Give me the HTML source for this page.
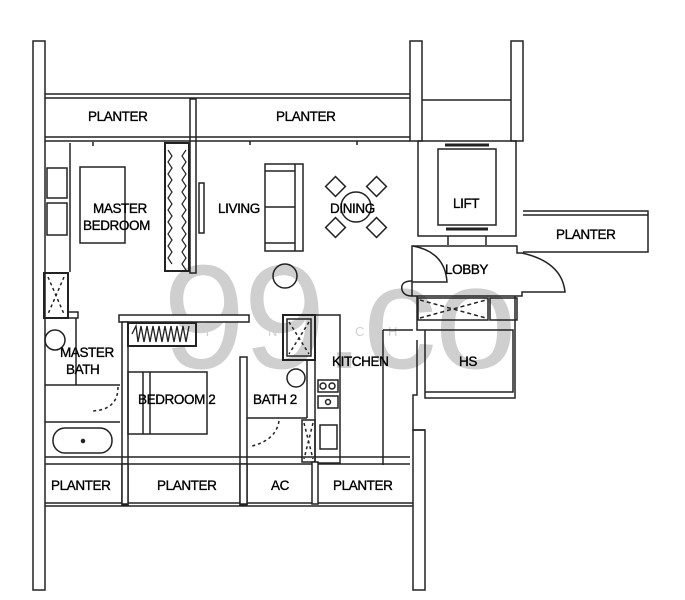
<!DOCTYPE html>
<html><head><meta charset="utf-8"><style>
html,body{margin:0;padding:0;background:#fff;}
svg{display:block;}
text{font-family:"Liberation Sans",sans-serif;font-size:13.5px;fill:#000;stroke:#000;stroke-width:0.35px;letter-spacing:-0.4px;}
</style></head><body>
<svg width="685" height="600" viewBox="0 0 685 600" xmlns="http://www.w3.org/2000/svg">
<!-- watermark -->
<text x="163" y="368" style="font-size:148px;fill:#cfcfcf;stroke:none;letter-spacing:-2px">99.co</text>
<text x="203" y="336" style="font-size:13px;fill:#d0d0d0;stroke:none;letter-spacing:0">Y</text>
<text x="268" y="336" style="font-size:13px;fill:#d0d0d0;stroke:none;letter-spacing:0">N</text>
<text x="355" y="336" style="font-size:13px;fill:#d0d0d0;stroke:none;letter-spacing:0">C</text>
<text x="388" y="336" style="font-size:13px;fill:#d0d0d0;stroke:none;letter-spacing:0">H</text>

<g fill="none" stroke="#222" stroke-width="1.5">
<rect x="33" y="41" width="12" height="549" fill="#fff"/>
<rect x="410" y="41" width="12" height="100" fill="#fff"/>
<rect x="511" y="41" width="12" height="100"/>
<rect x="413" y="430" width="12" height="160" fill="#fff"/>
<line x1="45" y1="94" x2="410" y2="94"/>
<line x1="45" y1="98" x2="410" y2="98"/>
<line x1="45" y1="137" x2="410" y2="137"/>
<line x1="45" y1="141" x2="410" y2="141"/>
<rect x="190" y="99" width="6" height="174"/>
<line x1="93" y1="142" x2="93" y2="146"/><line x1="250" y1="141" x2="250" y2="145"/><line x1="357" y1="141" x2="357" y2="145"/>
<line x1="70" y1="143" x2="70" y2="272"/>
<rect x="47" y="168" width="20" height="30"/><rect x="47" y="203" width="20" height="32"/>
<rect x="80" y="167" width="45" height="76"/>
<rect x="165" y="143" width="24" height="128" stroke-width="2"/>
<path d="M168 150 l4 6 l-4 6 l4 6 l-4 6 l4 6 l-4 6 l4 6 l-4 6 l4 6 l-4 6 l4 6 l-4 6 l4 6 l-4 6 l4 6 l-4 6 l4 6 l-4 6 l4 6 M186 150 l-4 6 l4 6 l-4 6 l4 6 l-4 6 l4 6 l-4 6 l4 6 l-4 6 l4 6 l-4 6 l4 6 l-4 6 l4 6 l-4 6 l4 6 l-4 6 l4 6 l-4 6 l4 6" stroke-width="1.2"/>
<rect x="199" y="183" width="5" height="50"/>
<rect x="265" y="164" width="38" height="87"/>
<line x1="295" y1="164" x2="295" y2="251"/><line x1="265" y1="171" x2="295" y2="171"/><line x1="265" y1="243" x2="295" y2="243"/><line x1="265" y1="207" x2="295" y2="207"/>
<circle cx="356" cy="207" r="15"/>
<g transform="translate(356 207) rotate(45)">
<rect x="-7" y="-36" width="14" height="14"/><rect x="-7" y="22" width="14" height="14"/>
<rect x="-36" y="-7" width="14" height="14"/><rect x="22" y="-7" width="14" height="14"/>
</g>
<circle cx="285" cy="276" r="12"/>
<path d="M422 100 L511 100 M418 141 L418 236 L516 236 L516 141 Z"/>
<rect x="438" y="149" width="58" height="76"/>
<line x1="445" y1="145" x2="489" y2="145" stroke-width="3"/>
<line x1="446" y1="229" x2="488" y2="229" stroke-width="3"/>
<path d="M448 236 V245 M486 236 V245"/>
<path d="M523 211 H648 V252 H523 M523 215 H648"/>
<path d="M412 246 H517 V253 H522 Q562 262 565 292 H522 V296 H412 Z"/>
<path d="M413 246 Q445 252 447 282 H412"/>
<path d="M412 281 Q400 281 402 290 Q404 296 412 296"/>
<rect x="418" y="298" width="70" height="22"/>
<rect x="490" y="298" width="27" height="22"/>
<path d="M420 300 L486 318 M420 318 L486 300" stroke-dasharray="4 3"/>
<path d="M417 296 V330 H425 V398 H515 V296 M425 330 H513 V392 H425 M417 340 V395 H413 V430 H425"/>
<path d="M383 330 V465 M413 330 H383"/>
<rect x="315" y="315" width="25" height="148"/>
<rect x="283" y="315" width="32" height="45" stroke-width="2"/>
<rect x="287" y="319" width="24" height="37"/>
<path d="M289 322 L309 354 M309 322 L289 354" stroke-dasharray="3 3"/>
<rect x="318" y="380" width="20" height="12"/><circle cx="323" cy="386" r="3"/><circle cx="332" cy="386" r="3"/>
<rect x="318" y="396" width="20" height="12"/><circle cx="328" cy="402" r="2.5"/>
<rect x="320" y="425" width="17" height="24"/>
<path d="M307 360 V418 M247 418 H307"/>
<circle cx="296" cy="378" r="9"/>
<rect x="302" y="420" width="13" height="42"/>
<path d="M304 423 L313 459 M313 423 L304 459" stroke-dasharray="3 3"/>
<path d="M279 421 Q276 440 252 446" stroke-dasharray="3 3"/>
<rect x="240" y="357" width="7" height="148" fill="#fff"/>
<rect x="119" y="315" width="130" height="7" fill="#fff"/>
<rect x="122" y="322" width="6" height="183" fill="#fff"/>
<rect x="128" y="323" width="68" height="23" stroke-width="2"/>
<path d="M132 334 l4 -8 l2 16 l3 -16 l3 16 l3 -16 l3 16 l3 -16 l3 16 l3 -16 l3 16 l3 -16 l3 16 l3 -16 l3 16 l3 -16 l3 16 l3 -16 l3 16 l3 -16" stroke-width="1.3"/>
<rect x="128" y="372" width="79" height="62"/>
<line x1="143" y1="372" x2="143" y2="434"/><line x1="150" y1="372" x2="150" y2="434"/>
<rect x="44" y="273" width="24" height="45" stroke-width="2"/>
<path d="M48 277 L64 314 M64 277 L48 314" stroke-dasharray="3 3"/>
<path d="M68 312 H78 V318 H45 M45 385 H120"/>
<line x1="76" y1="318" x2="76" y2="385"/>
<circle cx="55" cy="340" r="10"/>
<path d="M118 387 Q118 410 92 411" stroke-dasharray="3 3"/>
<line x1="45" y1="422" x2="120" y2="422"/>
<rect x="53" y="428" width="59" height="25" rx="12"/>
<circle cx="83" cy="441" r="1.5" fill="#222"/>
<path d="M45 457 H410 M45 464 H410"/>
<line x1="45" y1="503" x2="413" y2="503"/><line x1="45" y1="506" x2="413" y2="506"/>
<rect x="122" y="464" width="6" height="40" fill="#fff"/>
<rect x="240" y="464" width="7" height="40" fill="#fff"/>
<rect x="312" y="462" width="6" height="42" fill="#fff"/>
</g>
<text x="88" y="121">PLANTER</text>
<text x="276" y="121">PLANTER</text>
<text x="93" y="213">MASTER</text>
<text x="83" y="230">BEDROOM</text>
<text x="218" y="213">LIVING</text>
<text x="330" y="213">DINING</text>
<text x="453" y="208">LIFT</text>
<text x="556" y="239">PLANTER</text>
<text x="445" y="274">LOBBY</text>
<text x="332" y="366">KITCHEN</text>
<text x="459" y="366">HS</text>
<text x="60" y="357">MASTER</text>
<text x="66" y="374">BATH</text>
<text x="138" y="404">BEDROOM 2</text>
<text x="253" y="404">BATH 2</text>
<text x="51" y="490">PLANTER</text>
<text x="157" y="490">PLANTER</text>
<text x="271" y="490">AC</text>
<text x="333" y="490">PLANTER</text>
</svg>
</body></html>
